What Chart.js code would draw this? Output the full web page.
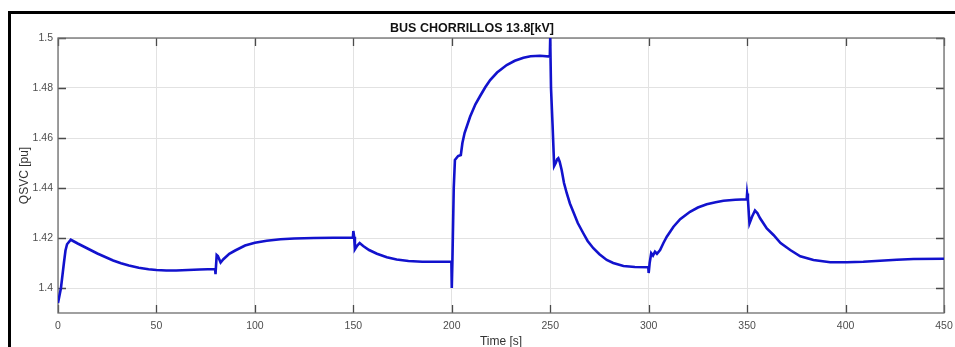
<!DOCTYPE html>
<html>
<head>
<meta charset="utf-8">
<script src="https://cdn.jsdelivr.net/npm/chart.js@4/dist/chart.umd.min.js"></script>
<style>
  html, body { margin:0; padding:0; background:#fff; width:955px; height:347px; overflow:hidden; }
  #wrap { position:relative; width:955px; height:347px; overflow:hidden; }
  #frame { position:absolute; left:8px; top:11px; width:1000px; height:400px;
           border-left:3px solid #000; border-top:3px solid #000; pointer-events:none; }
  canvas { position:absolute; left:0; top:0; }
</style>
</head>
<body>
<div id="wrap">
  <canvas id="c" width="955" height="360"></canvas>
  <div id="frame"></div>
</div>
<script>
// ---- data ----
const chartTitle = "BUS CHORRILLOS 13.8[kV]";
const xAxisLabel = "Time [s]";
const yAxisLabel = "QSVC [pu]";
const xTicks = [0, 50, 100, 150, 200, 250, 300, 350, 400, 450];
const yTicks = [1.40, 1.42, 1.44, 1.46, 1.48, 1.50];

const timeS = [
  0, 1.5, 3.0, 3.8, 4.6, 6.5, 10, 15, 20, 24, 28, 32, 36, 41, 46, 50, 55, 60, 66, 72, 79.8,
  80.0, 80.6, 81.2, 82.6, 84, 87, 90, 95, 100, 106, 113, 120, 130, 140, 149.8,
  150.0, 150.4, 150.8, 152.0, 153.2, 155, 158, 162, 167, 172, 178, 185, 192, 199.8,
  200.0, 200.3, 201.0, 201.6, 203.2, 204.6, 205.4, 206.5, 209.3, 212, 214.4, 217, 219.5, 223, 227.9, 232, 236.4, 240, 244.8, 249.8,
  250.0, 250.4, 251.2, 252.0, 252.8, 253.5, 254.1, 254.8, 255.8, 257, 258.4, 260, 261.7, 264, 266.8, 269, 271.9, 275, 278.7, 282, 287.2, 293, 299.8,
  300.0, 300.5, 301.3, 302.2, 303.2, 304.2, 305.8, 307.5, 309.2, 312.6, 316, 321, 325, 329.5, 334, 338, 344, 349.8,
  350.0, 350.4, 351.2, 352.5, 354.0, 355.2, 356.6, 360, 363.4, 367, 371.9, 377, 383.7, 392.2, 400.6, 409, 417.5, 426, 434.5, 450
];
const qsvcPu = [
  1.3940, 1.4000, 1.4100, 1.4150, 1.4175, 1.4193, 1.4178, 1.4158, 1.4138, 1.4124, 1.4110, 1.4099, 1.4090, 1.4081, 1.4075, 1.4072, 1.4070, 1.4070, 1.4072, 1.4074, 1.4076,
  1.4055, 1.4132, 1.4128, 1.4102, 1.4115, 1.4137, 1.4150, 1.4170, 1.4181, 1.4189, 1.4195, 1.4198, 1.4200, 1.4201, 1.4202,
  1.4228, 1.4205, 1.4155, 1.4170, 1.4180, 1.4168, 1.4152, 1.4137, 1.4123, 1.4114, 1.4108, 1.4105, 1.4105, 1.4106,
  1.4000, 1.4100, 1.4400, 1.4512, 1.4528, 1.4532, 1.4580, 1.4620, 1.4685, 1.4735, 1.4768, 1.4803, 1.4832, 1.4862, 1.4892, 1.4909, 1.4921, 1.4927, 1.4929, 1.4926,
  1.5000, 1.4800, 1.4650, 1.4488, 1.4500, 1.4515, 1.4519, 1.4505, 1.4472, 1.4420, 1.4379, 1.4338, 1.4305, 1.4260, 1.4219, 1.4188, 1.4159, 1.4135, 1.4112, 1.4100, 1.4088, 1.4084, 1.4083,
  1.4060, 1.4100, 1.4139, 1.4130, 1.4145, 1.4137, 1.4152, 1.4180, 1.4205, 1.4245, 1.4275, 1.4305, 1.4322, 1.4335, 1.4343, 1.4349, 1.4353, 1.4355,
  1.4378, 1.4355, 1.4258, 1.4285, 1.4310, 1.4300, 1.4279, 1.4238, 1.4212, 1.4180, 1.4152, 1.4127, 1.4112, 1.4103, 1.4103, 1.4105, 1.4109, 1.4113, 1.4116, 1.4117
];

const points = timeS.map((t, i) => ({ x: t, y: qsvcPu[i] }));

// box + inward ticks (MATLAB style)
const boxPlugin = {
  id: 'box',
  beforeDatasetsDraw(chart) {
    const { ctx, chartArea: a, scales: { x, y } } = chart;
    const L = 8;
    ctx.save();
    ctx.strokeStyle = '#4a4a4a';
    ctx.lineWidth = 1.3;
    ctx.beginPath();
    xTicks.forEach(v => {
      const px = Math.round(x.getPixelForValue(v)) + 0.5;
      ctx.moveTo(px, a.bottom); ctx.lineTo(px, a.bottom - L);
      ctx.moveTo(px, a.top); ctx.lineTo(px, a.top + L);
    });
    yTicks.forEach(v => {
      const py = Math.round(y.getPixelForValue(v)) + 0.5;
      ctx.moveTo(a.left, py); ctx.lineTo(a.left + L, py);
      ctx.moveTo(a.right, py); ctx.lineTo(a.right - L, py);
    });
    ctx.stroke();
    ctx.strokeStyle = '#6e6e6e';
    ctx.lineWidth = 1.3;
    ctx.strokeRect(a.left, a.top, a.right - a.left, a.bottom - a.top);
    ctx.restore();
  }
};

const FONT = "'Liberation Sans', Arial, sans-serif";

new Chart(document.getElementById('c'), {
  type: 'line',
  data: {
    datasets: [{
      data: points,
      borderColor: 'rgb(18,18,205)',
      borderWidth: 2.6,
      pointRadius: 0,
      tension: 0,
      fill: false
    }]
  },
  options: {
    responsive: false,
    animation: false,
    devicePixelRatio: 1,
    layout: { padding: { left: 0, right: 11, top: 0, bottom: 0 } },
    plugins: {
      legend: { display: false },
      tooltip: { enabled: false },
      title: {
        display: true,
        text: chartTitle,
        color: '#111',
        font: { family: FONT, size: 12.5, weight: 'bold', lineHeight: 1.2 },
        padding: { top: 20.8, bottom: 2.2 }
      }
    },
    scales: {
      x: {
        type: 'linear',
        min: 0, max: 450,
        afterBuildTicks: s => { s.ticks = xTicks.map(v => ({ value: v })); },
        afterFit: s => { s.height = 47; s.paddingLeft = 0; s.paddingRight = 0; },
        grid: { color: '#e2e2e2', lineWidth: 1, drawTicks: false },
        border: { display: false },
        ticks: {
          color: '#4d4d4d', padding: 7, maxRotation: 0, autoSkip: false,
          font: { family: FONT, size: 10.5 },
          callback: v => String(v)
        },
        title: {
          display: true, text: xAxisLabel, color: '#333',
          font: { family: FONT, size: 12 },
          padding: { top: 0, bottom: 10.8 }
        }
      },
      y: {
        type: 'linear',
        min: 1.39, max: 1.5,
        afterBuildTicks: s => { s.ticks = yTicks.map(v => ({ value: v })); },
        afterFit: s => { s.width = 58; s.paddingTop = 0; s.paddingBottom = 0; },
        grid: { color: '#e2e2e2', lineWidth: 1, drawTicks: false },
        border: { display: false },
        ticks: {
          color: '#4d4d4d', padding: 5, autoSkip: false,
          font: { family: FONT, size: 10.5 },
          callback: v => String(Number(v.toFixed(2)))
        },
        title: {
          display: true, text: yAxisLabel, color: '#333',
          font: { family: FONT, size: 12 },
          padding: { top: 17.8, bottom: 0 }
        }
      }
    }
  },
  plugins: [boxPlugin]
});
</script>
</body>
</html>
